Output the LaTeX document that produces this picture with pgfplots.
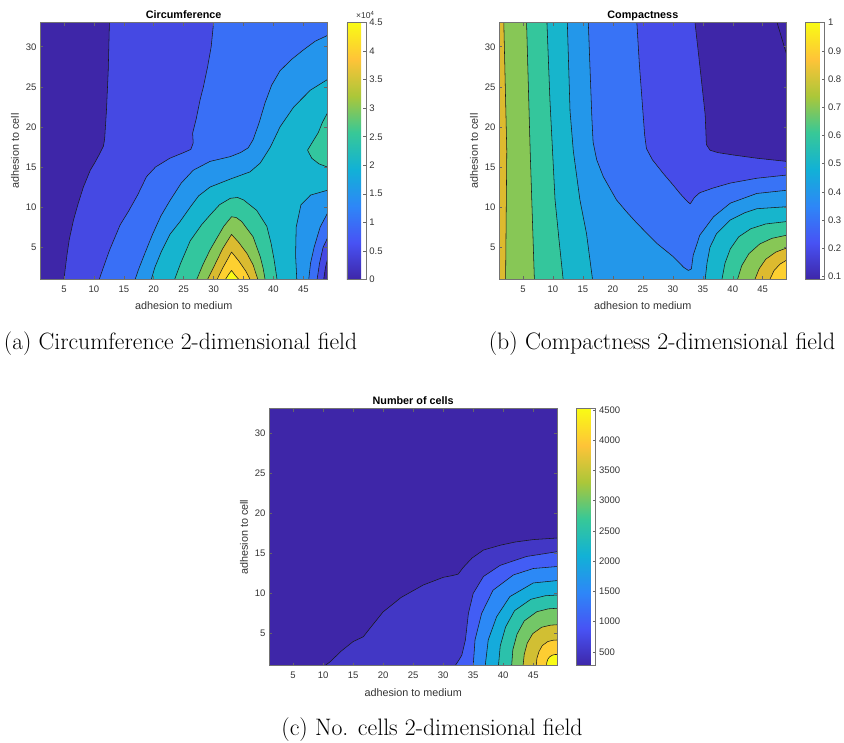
\documentclass[border=0pt]{standalone}
\usepackage{fontspec}
\newfontfamily\arial{Liberation Sans}
\usepackage{pgfplots}
\pgfplotsset{compat=1.18}
\definecolor{a0}{rgb}{0.242,0.150,0.660}
\definecolor{a1}{rgb}{0.272,0.285,0.892}
\definecolor{a2}{rgb}{0.224,0.437,0.964}
\definecolor{a3}{rgb}{0.142,0.584,0.925}
\definecolor{a4}{rgb}{0.085,0.705,0.812}
\definecolor{a5}{rgb}{0.200,0.775,0.621}
\definecolor{a6}{rgb}{0.520,0.781,0.346}
\definecolor{a7}{rgb}{0.855,0.735,0.190}
\definecolor{a8}{rgb}{0.992,0.814,0.189}
\definecolor{a9}{rgb}{0.977,0.984,0.081}
\definecolor{b2}{rgb}{0.275,0.297,0.913}
\definecolor{b3}{rgb}{0.218,0.450,0.964}
\definecolor{b4}{rgb}{0.136,0.593,0.918}
\definecolor{b5}{rgb}{0.092,0.709,0.800}
\definecolor{b6}{rgb}{0.204,0.777,0.612}
\definecolor{b7}{rgb}{0.531,0.782,0.337}
\definecolor{b8}{rgb}{0.865,0.730,0.185}
\definecolor{b9}{rgb}{0.992,0.814,0.189}
\definecolor{c1}{rgb}{0.257,0.216,0.773}
\definecolor{c2}{rgb}{0.259,0.366,0.960}
\definecolor{c3}{rgb}{0.174,0.536,0.963}
\definecolor{c4}{rgb}{0.084,0.672,0.857}
\definecolor{c5}{rgb}{0.170,0.756,0.669}
\definecolor{c6}{rgb}{0.451,0.782,0.402}
\definecolor{c7}{rgb}{0.820,0.750,0.200}
\definecolor{c8}{rgb}{0.993,0.803,0.196}
\definecolor{c9}{rgb}{0.977,0.984,0.081}
\pgfplotsset{
  /pgf/number format/assume math mode=true,
  colormap={parula}{rgb=(0.2422,0.1504,0.6603) rgb=(0.2810,0.3228,0.9579) rgb=(0.1786,0.5289,0.9682) rgb=(0.0689,0.6948,0.8394) rgb=(0.2161,0.7843,0.5923) rgb=(0.6720,0.7793,0.2227) rgb=(0.9970,0.7659,0.2199) rgb=(0.9769,0.9839,0.0805)},
  mlab/.style={
    scale only axis,
    xmin=1, xmax=49, ymin=1, ymax=33,
    xtick={5,10,15,20,25,30,35,40,45}, ytick={5,10,15,20,25,30},
    tick align=inside, major tick length=3pt,
    axis line style={black!55, line width=0.5pt},
    every tick/.style={black!60, line width=0.5pt},
    tick label style={font=\arial\fontsize{9.5}{11}\selectfont, text=black!80},
    xticklabel style={yshift=-3pt},
    label style={font=\arial\fontsize{10.8}{13}\selectfont, text=black!80},
    xlabel style={yshift=-2.5pt},
    title style={font=\arial\bfseries\fontsize{10.8}{13}\selectfont, at={(0.5,1)}, anchor=base, yshift=-1.4pt},
    xlabel={adhesion to medium}, ylabel={adhesion to cell},
    axis on top, clip=true,
    colormap name=parula, colorbar,
    colorbar style={
      at={(parent axis.north east)}, anchor=north west,
      scale only axis, width=19pt,
      tick align=inside, major tick length=3pt,
      ytick pos=right, yticklabel pos=right,
      axis line style={black!55, line width=0.5pt},
      every tick/.style={black!60, line width=0.5pt},
      yticklabel style={font=\arial\fontsize{9.5}{11}\selectfont, text=black!80},
    },
  },
  cl/.style={draw=black!90, line width=0.55pt, line join=round},
}
\begin{document}
\begin{tikzpicture}
\useasboundingbox (0pt,0pt) rectangle (844pt,743pt);
% ---------------- (a) Circumference ----------------
\begin{axis}[mlab, at={(40pt,463.7pt)}, anchor=south west,
  width=287.3pt, height=256.6pt, title={Circumference},
  point meta min=0, point meta max=4.5,
  colorbar style={xshift=11pt, height=256.6pt, ytick={0,0.5,1,1.5,2,2.5,3,3.5,4,4.5}}]
\addplot[fill=a0,draw=none] coordinates {(0,0) (50,0) (50,34) (0,34)};
\addplot[cl,fill=a1] coordinates {(12.6,34) (12.6,33) (12.4,27) (12.1,22) (11.8,18.5) (11.6,17.6) (11.0,16.7) (10.2,15.6) (9.4,14.6) (8.25,12.5) (7.4,10.5) (6.6,8.4) (5.9,6.0) (5.5,4) (5.0,1) (5.0,0) (48.4,0) (48.4,1) (48.7,2.5) (49,3.4) (50,3.4) (50,34)};
\addplot[cl,fill=a2] coordinates {(30.0,34) (30.0,33) (29.6,30) (29.0,27.5) (28.3,25) (27.75,23.4) (27.1,21) (26.5,19.2) (26.6,18.0) (26.2,17.2) (25.0,16.8) (22.7,16.1) (20.3,15.0) (18.8,13.8) (17.3,11.5) (15.8,9.5) (14.4,7.8) (12.6,4.6) (11.6,2.5) (10.9,1) (10.9,0) (47.3,0) (47.3,1) (47.7,3) (48.3,5) (49,6.1) (50,6.1) (50,34)};
\addplot[cl,fill=a3] coordinates {(50,31.4) (49,31.4) (47,30.7) (45,29.6) (43,28.4) (41.1,27.0) (39.7,25.2) (38.6,23.0) (37.6,20.5) (36.6,18.4) (35.8,17.4) (34.5,16.8) (32.8,16.3) (29.4,15.7) (26.6,14.6) (24.6,13.0) (22.7,10.8) (21.2,8.9) (19.8,6.6) (18.5,4.2) (17.5,2.3) (16.9,1) (16.9,0) (45.9,0) (45.9,1) (46.2,3) (46.8,5) (47.8,7.5) (49,9.2) (50,9.2)};
\addplot[cl,fill=a4] coordinates {(50,25.9) (49,25.9) (46.2,24.6) (43.4,22.5) (41.1,20.0) (39.5,17.5) (37.8,15.5) (36.1,14.4) (32.8,13.5) (29.4,12.5) (27.5,11.4) (26.1,10.0) (24.4,8.2) (22.7,6.6) (21.3,4.5) (20.2,2.5) (19.6,1) (19.6,0) (43.9,0) (43.9,1) (43.7,4) (43.8,7.5) (44.6,10.3) (46.2,11.5) (49,12.1) (50,12.1)};
\addplot[cl,fill=a5] coordinates {(23.5,0) (23.5,1) (24.5,3) (26.1,5.8) (28,7.8) (29.4,9.0) (31,10.3) (32.8,11.1) (34,11.2) (35,10.9) (37.2,9.6) (38.9,7.6) (39.6,5.5) (40.1,3.5) (40.6,1) (40.6,0)};
\addplot[cl,fill=a5] coordinates {(50,21.7) (49,21.7) (48.2,20.6) (47.5,19.3) (45.7,17.1) (46.4,16.1) (47.6,15.4) (49,15.0) (50,15.0)};
\addplot[cl,fill=a6] coordinates {(27.2,0) (27.2,1) (28.2,2.8) (29.4,4.65) (30.6,6.2) (31.7,7.6) (33.0,8.8) (33.8,8.7) (34.7,8.2) (36.6,6.3) (37.8,3.8) (38.3,2.3) (38.6,1) (38.6,0)};
\addplot[cl,fill=a7] coordinates {(29.0,0) (29.0,1) (30.2,2.8) (31.5,4.8) (33.0,6.6) (34.2,5.6) (35.6,4.2) (36.6,2.8) (37.4,1) (37.4,0)};
\addplot[cl,fill=a8] coordinates {(30.6,0) (30.6,1) (31.6,2.5) (33.0,4.4) (34.2,3.3) (35.4,2.0) (36.1,1) (36.1,0)};
\addplot[cl,fill=a9] coordinates {(32.0,0) (32.0,1) (32.5,1.6) (33.0,2.1) (33.6,1.5) (34.2,1) (34.2,0)};
\end{axis}
\node[anchor=south west, inner sep=0pt, font=\arial\fontsize{8.5}{10}\selectfont, text=black!80] at (356pt,724pt) {×10\textsuperscript{4}};
% ---------------- (b) Compactness ----------------
\begin{axis}[mlab, at={(499pt,463.7pt)}, anchor=south west,
  width=287.7pt, height=256.6pt, title={Compactness},
  point meta min=0.09, point meta max=1,
  colorbar style={xshift=10.3pt, height=256.6pt, ytick={0.1,0.2,0.3,0.4,0.5,0.6,0.7,0.8,0.9,1}}]
\addplot[fill=a0,draw=none] coordinates {(0,0) (50,0) (50,34) (0,34)};
\addplot[cl,fill=a0] coordinates {(47.4,34) (47.4,33) (48.2,31) (49,29) (50,29) (50,34)};
\addplot[cl,fill=b2] coordinates {(0,34) (33.7,34) (33.7,33) (34.6,27) (35.4,21.5) (35.6,17.8) (36.2,17.1) (37.5,16.8) (40.1,16.5) (44,16.1) (49,15.7) (50,15.7) (50,0) (0,0)};
\addplot[cl,fill=b3] coordinates {(0,34) (24.0,34) (24.0,33) (24.4,28) (24.9,23) (25.3,19) (25.6,17.3) (26.6,15.9) (28.4,14.2) (30,12.8) (31.2,11.7) (32.3,10.8) (32.9,10.4) (33.6,11.2) (34.5,11.8) (36.8,12.4) (39.6,13.0) (44,13.6) (49,14.0) (50,14.0) (50,0) (0,0)};
\addplot[cl,fill=b4] coordinates {(0,34) (15.9,34) (15.9,33) (16.2,27) (16.5,21) (16.7,18.1) (17.3,15.9) (18.4,13.8) (20.6,10.9) (22.3,9.4) (24.0,8.0) (27.3,5.5) (30.1,3.8) (31.8,2.5) (32.6,2.1) (33.1,2.3) (33.4,4.0) (34.5,6.5) (36.8,8.8) (39.6,10.5) (44,11.7) (49,12.1) (50,12.1) (50,0) (0,0)};
\addplot[cl,fill=b5] coordinates {(0,0) (0,34) (12.4,34) (12.4,33) (12.85,22) (13.4,17) (14.5,10.9) (15.6,6.7) (16.6,1) (16.6,0)};
\addplot[cl,fill=b5] coordinates {(35.4,0) (35.4,1) (35.7,3) (36.2,5) (37.3,6.7) (39.6,8.4) (42,9.3) (44,9.8) (49,10.05) (50,10.05) (50,0)};
\addplot[cl,fill=b6] coordinates {(0,0) (0,34) (9.0,34) (9.0,33) (9.5,23.3) (10.35,10.9) (11.0,6) (11.7,1) (11.7,0)};
\addplot[cl,fill=b6] coordinates {(38.2,0) (38.2,1) (38.7,3) (39.6,4.8) (41,6.3) (43,7.3) (45.5,7.9) (49,8.2) (50,8.2) (50,0)};
\addplot[cl,fill=b7] coordinates {(0,0) (0,34) (5.6,34) (5.6,33) (6.2,17) (6.9,1) (6.9,0)};
\addplot[cl,fill=b7] coordinates {(40.8,0) (40.8,1) (41.5,2.7) (42.7,4.2) (44.5,5.4) (46.5,6.1) (49,6.5) (50,6.5) (50,0)};
\addplot[cl,fill=b8] coordinates {(0,0) (0,34) (1.8,34) (1.8,33) (2.3,17) (2.1,1) (2.1,0)};
\addplot[cl,fill=b8] coordinates {(43.7,0) (43.7,1) (44.4,2.3) (45.5,3.5) (47.2,4.4) (49,4.9) (50,4.9) (50,0)};
\addplot[cl,fill=b9] coordinates {(46.2,0) (46.2,1) (46.9,2.1) (47.9,2.9) (49,3.4) (50,3.4) (50,0)};
\end{axis}
% ---------------- (c) Number of cells ----------------
\begin{axis}[mlab, at={(269pt,77.3pt)}, anchor=south west,
  width=288.3pt, height=257pt, title={Number of cells},
  point meta min=270, point meta max=4520,
  colorbar style={xshift=10.4pt, height=257pt, width=19.3pt, scaled y ticks=false,
    ytick={500,1000,1500,2000,2500,3000,3500,4000,4500},
    yticklabel style={/pgf/number format/1000 sep={}}}]
\addplot[fill=a0,draw=none] coordinates {(0,0) (50,0) (50,34) (0,34)};
\addplot[cl,fill=c1] coordinates {(10.3,0) (10.3,1) (11.2,1.5) (13,2.8) (15.0,4.0) (16.7,4.6) (17.8,5.65) (20.0,7.7) (23.0,9.5) (26.7,11.05) (30.0,12.0) (31.4,12.2) (32.5,12.4) (33.3,13.2) (34.8,14.4) (36.7,15.4) (39.5,16.0) (42,16.4) (45.0,16.7) (49,16.9) (50,16.9) (50,0)};
\addplot[cl,fill=c2] coordinates {(32.0,0) (32.0,1) (32.7,1.8) (33.1,2.3) (33.7,4.2) (34.2,7.5) (35.0,10.0) (36.7,12.1) (39.5,13.5) (43.9,14.6) (49,15.2) (50,15.2) (50,0)};
\addplot[cl,fill=c3] coordinates {(35.0,0) (35.0,1) (35.3,4.2) (36.4,7.5) (38.3,10.4) (41.7,12.3) (45,13.1) (49,13.35) (50,13.35) (50,0)};
\addplot[cl,fill=c4] coordinates {(37.0,0) (37.0,1) (37.5,4.2) (38.9,7.1) (41.1,9.6) (45,11.3) (49,11.6) (50,11.6) (50,0)};
\addplot[cl,fill=c5] coordinates {(39.2,0) (39.2,1) (39.5,3.46) (40.4,5.84) (41.9,7.86) (44.6,9.27) (47.0,9.71) (49,9.8) (50,9.8) (50,0)};
\addplot[cl,fill=c6] coordinates {(41.4,0) (41.4,1) (41.6,3.0) (42.3,4.93) (43.5,6.58) (45.6,7.72) (47.5,8.08) (49,8.15) (50,8.15) (50,0)};
\addplot[cl,fill=c7] coordinates {(43.3,0) (43.3,1) (43.5,2.43) (44.0,3.81) (44.9,4.98) (46.4,5.79) (47.9,6.05) (49,6.1) (50,6.1) (50,0)};
\addplot[cl,fill=c8] coordinates {(45.5,0) (45.5,1) (45.6,1.9) (45.95,2.76) (46.5,3.5) (47.4,4.0) (48.3,4.17) (49,4.2) (50,4.2) (50,0)};
\addplot[cl,fill=c9] coordinates {(47.2,0) (47.2,1) (47.25,1.39) (47.4,1.77) (47.7,2.09) (48.2,2.32) (48.6,2.39) (49,2.4) (50,2.4) (50,0)};
\end{axis}
% ---------------- captions ----------------
\node[font=\fontsize{23.6}{28}\selectfont] at (180.5pt,399pt) {(a) Circumference 2-dimensional field};
\node[font=\fontsize{23.8}{28}\selectfont] at (662pt,399pt) {(b) Compactness 2-dimensional field};
\node[font=\fontsize{23.8}{28}\selectfont] at (432pt,13pt) {(c) No. cells 2-dimensional field};
\end{tikzpicture}
\end{document}
